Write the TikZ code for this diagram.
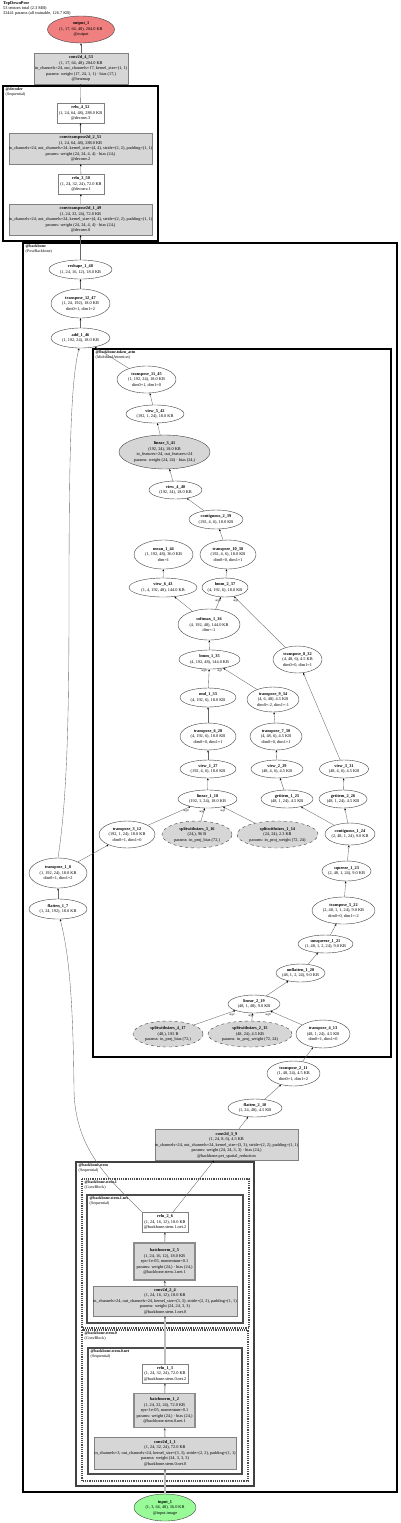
\documentclass[tikz,border=0pt]{standalone}
\usepackage{fontspec}
\setmainfont{Liberation Serif}
\usetikzlibrary{shapes.geometric,arrows.meta}
\definecolor{pgray}{HTML}{D6D6D6}
\definecolor{outc}{HTML}{F08080}
\definecolor{inc}{HTML}{98FB98}
\tikzset{
 txt/.style={inner sep=0pt, align=center, font=\fontsize{4.3}{5.5}\selectfont},
 ell/.style={ellipse, draw=black!75, line width=0.4pt, fill=white, inner sep=0pt},
 gell/.style={ell, fill=pgray},
 dell/.style={gell, dashed},
 wbox/.style={rectangle, draw=black!50, line width=0.4pt, fill=white, inner sep=0pt},
 gbox/.style={wbox, fill=pgray},
 bnbox/.style={gbox, draw=black!45, line width=1.2pt},
 cl/.style={draw=black, line width=1.6pt},
 edge/.style={draw=black!60, line width=0.35pt, -{Stealth[length=2.2pt,width=1.8pt,color=black]}},
 sedge/.style={draw=black!25, line width=1.4pt, -{Stealth[length=2.4pt,width=2.2pt,color=black!70]}},
 alab/.style={inner sep=0pt, font=\fontsize{3}{3.5}\selectfont},
 clab/.style={anchor=north west, inner sep=0pt, align=left, font=\fontsize{4}{4.6}\selectfont},
}
\newcommand\nd[7]{%
  \node[#1, minimum width=#5pt, minimum height=#6pt] (#2) at (#3,#4) {};
  \node[txt] (#2-t) at (#3,#4) {#7};}
\begin{document}
\begin{tikzpicture}[x=1pt,y=-1pt]
\useasboundingbox (0,0) rectangle (400,1523);
\node[clab, font=\fontsize{4.3}{5}\selectfont] (hdr) at (3,1.5) {\textbf{TopDownPose}\\53 tensors total (2.3 MB)\\32441 params (all trainable, 126.7 KB)};
% clusters
\draw[cl] (3,86) rectangle (158,241);
\node[clab] (c-dec) at (5.5,88) {\textbf{@decoder}\\(Sequential)};
\draw[cl] (23,243) rectangle (397,1492);
\node[clab] (c-bb) at (25.5,245) {\textbf{@backbone}\\(PoseBackbone)};
\draw[cl, line width=1.3pt] (93,349) rectangle (391,1057);
\node[clab] (c-att) at (95.5,351) {\textbf{@backbone.token\_attn}\\(MultiheadAttention)};
\draw[draw=black!75, line width=1.3pt] (76,1162) rectangle (254,1486);
\node[clab] (c-stem) at (78.5,1164) {\textbf{@backbone.stem}\\(Sequential)};
\draw[draw=black!70, line width=1.2pt, densely dotted] (82,1179) rectangle (249,1328);
\node[clab] (c-s1) at (84.5,1181) {\textbf{@backbone.stem.1}\\(ConvBlock)};
\draw[draw=black!70, line width=1.1pt] (87,1195) rectangle (243,1323);
\node[clab] (c-s1n) at (89.5,1197) {\textbf{@backbone.stem.1.net}\\(Sequential)};
\draw[draw=black!70, line width=1.2pt, densely dotted] (82,1330) rectangle (248,1481);
\node[clab] (c-s0) at (84.5,1332) {\textbf{@backbone.stem.0}\\(ConvBlock)};
\draw[draw=black!70, line width=1.1pt] (88,1348) rectangle (242,1474);
\node[clab] (c-s0n) at (90.5,1350) {\textbf{@backbone.stem.0.net}\\(Sequential)};
% nodes
\nd{ell, fill=outc}{output_1}{81}{29.5}{67}{27}{\textbf{output\_1}\\(1, 17, 64, 48), 204.0 KB\\@output}
\nd{gbox}{conv2d_4_53}{81}{68.5}{94}{31}{\textbf{conv2d\_4\_53}\\(1, 17, 64, 48), 204.0 KB\\in\_channels=24, out\_channels=17, kernel\_size=(1, 1)\\params: weight (17, 24, 1, 1) · bias (17,)\\@heatmap}
\nd{wbox}{relu_4_52}{80.5}{113}{47}{20}{\textbf{relu\_4\_52}\\(1, 24, 64, 48), 288.0 KB\\@deconv.3}
\nd{gbox}{convtranspose2d_2_51}{80.5}{148.5}{143}{31}{\textbf{convtranspose2d\_2\_51}\\(1, 24, 64, 48), 288.0 KB\\in\_channels=24, out\_channels=24, kernel\_size=(4, 4), stride=(2, 2), padding=(1, 1)\\params: weight (24, 24, 4, 4) · bias (24,)\\@deconv.2}
\nd{wbox}{relu_3_50}{81}{184}{46}{20}{\textbf{relu\_3\_50}\\(1, 24, 32, 24), 72.0 KB\\@deconv.1}
\nd{gbox}{convtranspose2d_1_49}{80.5}{219.5}{143}{31}{\textbf{convtranspose2d\_1\_49}\\(1, 24, 32, 24), 72.0 KB\\in\_channels=24, out\_channels=24, kernel\_size=(4, 4), stride=(2, 2), padding=(1, 1)\\params: weight (24, 24, 4, 4) · bias (24,)\\@deconv.0}
\nd{ell}{reshape_1_48}{80.5}{269.5}{63}{19}{\textbf{reshape\_1\_48}\\(1, 24, 16, 12), 18.0 KB}
\nd{ell}{transpose_12_47}{80.5}{303.5}{59}{29}{\textbf{transpose\_12\_47}\\(1, 24, 192), 18.0 KB\\dim0=1, dim1=2}
\nd{ell}{add_1_46}{80.5}{338}{59}{20}{\textbf{add\_1\_46}\\(1, 192, 24), 18.0 KB}
\nd{ell}{transpose_11_45}{146.5}{379.5}{59}{27}{\textbf{transpose\_11\_45}\\(1, 192, 24), 18.0 KB\\dim0=1, dim1=0}
\nd{ell}{view_5_42}{155}{414}{58}{18}{\textbf{view\_5\_42}\\(192, 1, 24), 18.0 KB}
\nd{gell}{linear_3_41}{164.5}{452}{91}{34}{\textbf{linear\_3\_41}\\(192, 24), 18.0 KB\\in\_features=24, out\_features=24\\params: weight (24, 24) · bias (24,)}
\nd{ell}{view_4_40}{175.5}{490}{53}{18}{\textbf{view\_4\_40}\\(192, 24), 18.0 KB}
\nd{ell}{contiguous_2_39}{216}{519.5}{54}{19}{\textbf{contiguous\_2\_39}\\(192, 4, 6), 18.0 KB}
\nd{ell}{transpose_10_38}{228}{554.5}{56}{29}{\textbf{transpose\_10\_38}\\(192, 4, 6), 18.0 KB\\dim0=0, dim1=1}
\nd{ell}{mean_1_44}{163.5}{554.5}{59}{29}{\textbf{mean\_1\_44}\\(1, 192, 48), 36.0 KB\\dim=1}
\nd{ell}{view_6_43}{163}{587.5}{68}{19}{\textbf{view\_6\_43}\\(1, 4, 192, 48), 144.0 KB}
\nd{ell}{bmm_2_37}{225}{587.5}{46}{19}{\textbf{bmm\_2\_37}\\(4, 192, 6), 18.0 KB}
\nd{ell}{softmax_1_36}{209}{624.5}{62}{31}{\textbf{softmax\_1\_36}\\(4, 192, 48), 144.0 KB\\dim=-1}
\nd{ell}{bmm_1_35}{209.5}{659.5}{61}{19}{\textbf{bmm\_1\_35}\\(4, 192, 48), 144.0 KB}
\nd{ell}{transpose_8_32}{297.5}{659.5}{49}{27}{\textbf{transpose\_8\_32}\\(4, 48, 6), 4.5 KB\\dim0=0, dim1=1}
\nd{ell}{mul_1_33}{208}{697.5}{56}{19}{\textbf{mul\_1\_33}\\(4, 192, 6), 18.0 KB}
\nd{ell}{transpose_9_34}{273}{699.5}{52}{25}{\textbf{transpose\_9\_34}\\(4, 6, 48), 4.5 KB\\dim0=-2, dim1=-1}
\nd{ell}{transpose_6_28}{208}{736.5}{56}{27}{\textbf{transpose\_6\_28}\\(4, 192, 6), 18.0 KB\\dim0=0, dim1=1}
\nd{ell}{transpose_7_30}{276}{736.5}{52}{27}{\textbf{transpose\_7\_30}\\(4, 48, 6), 4.5 KB\\dim0=0, dim1=1}
\nd{ell}{view_1_27}{208}{769}{56}{18}{\textbf{view\_1\_27}\\(192, 4, 6), 18.0 KB}
\nd{ell}{view_2_29}{277}{769}{52}{18}{\textbf{view\_2\_29}\\(48, 4, 6), 4.5 KB}
\nd{ell}{view_3_31}{344}{769}{49}{18}{\textbf{view\_3\_31}\\(48, 4, 6), 4.5 KB}
\nd{ell}{linear_1_18}{207.5}{799}{59}{18}{\textbf{linear\_1\_18}\\(192, 1, 24), 18.0 KB}
\nd{ell}{getitem_1_25}{287}{799}{52}{18}{\textbf{getitem\_1\_25}\\(48, 1, 24), 4.5 KB}
\nd{ell}{getitem_2_26}{343}{799}{48}{18}{\textbf{getitem\_2\_26}\\(48, 1, 24), 4.5 KB}
\nd{ell}{transpose_3_12}{127}{834.5}{56}{27}{\textbf{transpose\_3\_12}\\(192, 1, 24), 18.0 KB\\dim0=1, dim1=0}
\nd{dell}{splitwithsizes_3_16}{197}{834.5}{70}{27}{\textbf{splitwithsizes\_3\_16}\\(24,), 96 B\\params: in\_proj\_bias (72,)}
\nd{dell}{splitwithsizes_1_14}{277.5}{834.5}{81}{27}{\textbf{splitwithsizes\_1\_14}\\(24, 24), 2.3 KB\\params: in\_proj\_weight (72, 24)}
\nd{ell}{contiguous_1_24}{350}{834}{50}{22}{\textbf{contiguous\_1\_24}\\(2, 48, 1, 24), 9.0 KB}
\nd{ell}{squeeze_1_23}{346.5}{871}{49}{20}{\textbf{squeeze\_1\_23}\\(2, 48, 1, 24), 9.0 KB}
\nd{ell}{transpose_1_8}{58}{873}{58}{30}{\textbf{transpose\_1\_8}\\(1, 192, 24), 18.0 KB\\dim0=1, dim1=2}
\nd{ell}{flatten_1_7}{58}{909}{58}{20}{\textbf{flatten\_1\_7}\\(1, 24, 192), 18.0 KB}
\nd{ell}{transpose_5_22}{343.5}{910.5}{63}{27}{\textbf{transpose\_5\_22}\\(2, 48, 1, 1, 24), 9.0 KB\\dim0=0, dim1=-2}
\nd{ell}{unsqueeze_1_21}{325.5}{944}{55}{18}{\textbf{unsqueeze\_1\_21}\\(1, 48, 1, 2, 24), 9.0 KB}
\nd{ell}{unflatten_1_20}{300.5}{973}{49}{18}{\textbf{unflatten\_1\_20}\\(48, 1, 2, 24), 9.0 KB}
\nd{ell}{linear_2_19}{254}{1004}{52}{18}{\textbf{linear\_2\_19}\\(48, 1, 48), 9.0 KB}
\nd{dell}{splitwithsizes_4_17}{168}{1034}{70}{26}{\textbf{splitwithsizes\_4\_17}\\(48,), 192 B\\params: in\_proj\_bias (72,)}
\nd{dell}{splitwithsizes_2_15}{250}{1034}{84}{26}{\textbf{splitwithsizes\_2\_15}\\(48, 24), 4.5 KB\\params: in\_proj\_weight (72, 24)}
\nd{ell}{transpose_4_13}{323}{1034}{54}{28}{\textbf{transpose\_4\_13}\\(48, 1, 24), 4.5 KB\\dim0=1, dim1=0}
\nd{ell}{transpose_2_11}{293.5}{1073.5}{53}{25}{\textbf{transpose\_2\_11}\\(1, 48, 24), 4.5 KB\\dim0=1, dim1=2}
\nd{ell}{flatten_2_10}{255}{1108}{54}{18}{\textbf{flatten\_2\_10}\\(1, 24, 48), 4.5 KB}
\nd{gbox}{conv2d_3_9}{226.5}{1145}{143}{31}{\textbf{conv2d\_3\_9}\\(1, 24, 8, 6), 4.5 KB\\in\_channels=24, out\_channels=24, kernel\_size=(3, 3), stride=(2, 2), padding=(1, 1)\\params: weight (24, 24, 3, 3) · bias (24,)\\@backbone.pvt\_spatial\_reduction}
\nd{wbox}{relu_2_6}{165}{1222}{46}{20}{\textbf{relu\_2\_6}\\(1, 24, 16, 12), 18.0 KB\\@backbone.stem.1.net.2}
\nd{bnbox}{batchnorm_2_5}{164.5}{1261.5}{61}{37}{\textbf{batchnorm\_2\_5}\\(1, 24, 16, 12), 18.0 KB\\eps=1e-05, momentum=0.1\\params: weight (24,) · bias (24,)\\@backbone.stem.1.net.1}
\nd{gbox}{conv2d_2_4}{165}{1301}{144}{30}{\textbf{conv2d\_2\_4}\\(1, 24, 16, 12), 18.0 KB\\in\_channels=24, out\_channels=24, kernel\_size=(3, 3), stride=(2, 2), padding=(1, 1)\\params: weight (24, 24, 3, 3)\\@backbone.stem.1.net.0}
\nd{wbox}{relu_1_3}{165}{1373.5}{46}{19}{\textbf{relu\_1\_3}\\(1, 24, 32, 24), 72.0 KB\\@backbone.stem.0.net.2}
\nd{bnbox}{batchnorm_1_2}{164.5}{1410.5}{61}{34}{\textbf{batchnorm\_1\_2}\\(1, 24, 32, 24), 72.0 KB\\eps=1e-05, momentum=0.1\\params: weight (24,) · bias (24,)\\@backbone.stem.0.net.1}
\nd{gbox}{conv2d_1_1}{165}{1453}{142}{32}{\textbf{conv2d\_1\_1}\\(1, 24, 32, 24), 72.0 KB\\in\_channels=3, out\_channels=24, kernel\_size=(3, 3), stride=(2, 2), padding=(1, 1)\\params: weight (24, 3, 3, 3)\\@backbone.stem.0.net.0}
\nd{ell, fill=inc}{input_1}{165}{1507.5}{62}{27}{\textbf{input\_1}\\(1, 3, 64, 48), 36.0 KB\\@input.image}
% edges
\draw[edge] (conv2d_4_53) -- (output_1);
\draw[edge] (relu_4_52) -- (conv2d_4_53);
\draw[edge] (convtranspose2d_2_51) -- (relu_4_52);
\draw[edge] (relu_3_50) -- (convtranspose2d_2_51);
\draw[edge] (convtranspose2d_1_49) -- (relu_3_50);
\draw[edge] (reshape_1_48) -- (convtranspose2d_1_49);
\draw[edge] (transpose_12_47) -- (reshape_1_48);
\draw[edge] (add_1_46) -- (transpose_12_47);
\draw[edge] (transpose_11_45) -- (add_1_46);
\draw[edge] (transpose_1_8.north) .. controls (67,800) and (69,720) .. (69,600) .. controls (69,450) and (71,380) .. (add_1_46.262);
\draw[edge] (view_5_42) -- (transpose_11_45);
\draw[edge] (linear_3_41) -- (view_5_42);
\draw[edge] (view_4_40) -- (linear_3_41);
\draw[edge] (contiguous_2_39) -- (view_4_40);
\draw[edge] (transpose_10_38) -- (contiguous_2_39);
\draw[edge] (bmm_2_37) -- (transpose_10_38);
\draw[edge] (view_6_43) -- (mean_1_44);
\draw[edge] (softmax_1_36) -- (view_6_43);
\draw[edge] (softmax_1_36) -- (bmm_2_37);
\draw[edge] (transpose_8_32) -- (bmm_2_37);
\draw[edge] (bmm_1_35) -- (softmax_1_36);
\draw[edge] (mul_1_33) -- (bmm_1_35);
\draw[edge] (transpose_9_34) -- (bmm_1_35);
\draw[edge] (view_3_31) -- (transpose_8_32);
\draw[edge] (transpose_6_28) -- (mul_1_33);
\draw[edge] (transpose_7_30) -- (transpose_9_34);
\draw[edge] (view_1_27) -- (transpose_6_28);
\draw[edge] (view_2_29) -- (transpose_7_30);
\draw[edge] (linear_1_18) -- (view_1_27);
\draw[edge] (getitem_1_25) -- (view_2_29);
\draw[edge] (getitem_2_26) -- (view_3_31);
\draw[edge] (transpose_3_12) -- (linear_1_18);
\draw[edge] (splitwithsizes_3_16) -- (linear_1_18);
\draw[edge] (splitwithsizes_1_14) -- (linear_1_18);
\draw[edge] (contiguous_1_24) -- (getitem_1_25);
\draw[edge] (contiguous_1_24) -- (getitem_2_26);
\draw[edge] (squeeze_1_23) -- (contiguous_1_24);
\draw[edge] (transpose_1_8) -- (transpose_3_12);
\draw[edge] (flatten_1_7) -- (transpose_1_8);
\draw[edge] (transpose_5_22) -- (squeeze_1_23);
\draw[edge] (unsqueeze_1_21) -- (transpose_5_22);
\draw[edge] (unflatten_1_20) -- (unsqueeze_1_21);
\draw[edge] (linear_2_19) -- (unflatten_1_20);
\draw[edge] (splitwithsizes_4_17) -- (linear_2_19);
\draw[edge] (splitwithsizes_2_15) -- (linear_2_19);
\draw[edge] (transpose_4_13) -- (linear_2_19);
\draw[edge] (transpose_2_11) -- (transpose_4_13);
\draw[edge] (flatten_2_10) -- (transpose_2_11);
\draw[edge] (conv2d_3_9) -- (flatten_2_10);
\draw[edge] (relu_2_6) -- (conv2d_3_9);
\draw[edge] (relu_2_6.north west) .. controls (110,1180) and (75,1150) .. (74,1090) .. controls (73,990) and (68,950) .. (flatten_1_7.282);
\draw[sedge] (batchnorm_2_5) -- (relu_2_6);
\draw[sedge] (conv2d_2_4) -- (batchnorm_2_5);
\draw[sedge] (relu_1_3) -- (conv2d_2_4);
\draw[sedge] (batchnorm_1_2) -- (relu_1_3);
\draw[sedge] (conv2d_1_1) -- (batchnorm_1_2);
\draw[sedge] (input_1) -- (conv2d_1_1);
% edge labels
\node[alab] (l1) at (218,600.5) {arg0};
\node[alab] (l2) at (236,600.5) {arg1};
\node[alab] (l3) at (204,671) {arg0};
\node[alab] (l4) at (220,670.5) {arg1};
\node[alab] (l5) at (186,810.5) {arg0};
\node[alab] (l6) at (202,811.5) {arg2};
\node[alab] (l7) at (223,810.5) {arg1};
\node[alab] (l8) at (232,1015) {arg2};
\node[alab] (l9) at (251,1015.5) {arg1};
\node[alab] (l10) at (268,1015) {arg0};
\end{tikzpicture}
\end{document}
